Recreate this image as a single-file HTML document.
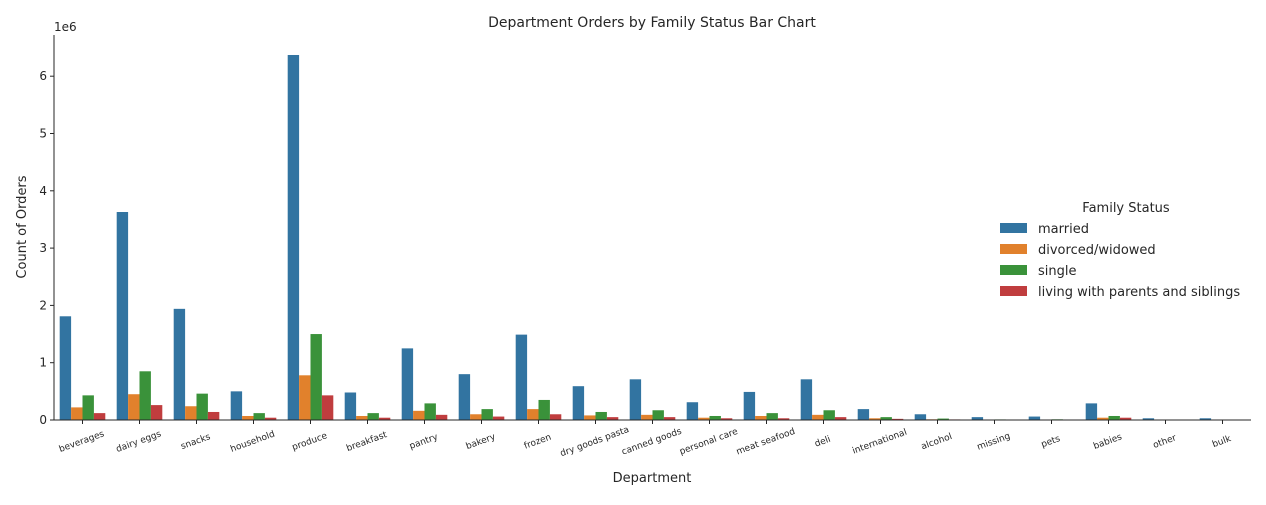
<!DOCTYPE html>
<html><head><meta charset="utf-8"><style>
body{margin:0;background:#fff;font-family:"Liberation Sans","DejaVu Sans",sans-serif;}
svg text{font-family:"DejaVu Sans","Liberation Sans",sans-serif;fill:#262626;}
</style></head><body>
<svg id="chart" width="1266" height="500" xmlns="http://www.w3.org/2000/svg">
<text x="652" y="27" font-size="14" text-anchor="middle">Department Orders by Family Status Bar Chart</text>
<text x="54" y="31" font-size="12">1e6</text>
<text transform="translate(26,227) rotate(-90)" font-size="13" text-anchor="middle">Count of Orders</text>
<text x="652" y="482" font-size="13" text-anchor="middle">Department</text>
<g id="bars"></g><g id="axes"></g>
<g font-size="13">
<text x="1126" y="212" font-size="13" text-anchor="middle">Family Status</text>
<g id="legend"></g>
</g>
</svg>
<script>
const categories=["beverages","dairy eggs","snacks","household","produce","breakfast","pantry","bakery","frozen","dry goods pasta","canned goods","personal care","meat seafood","deli","international","alcohol","missing","pets","babies","other","bulk"];
const seriesNames=["married","divorced/widowed","single","living with parents and siblings"];
const married=[1.81,3.63,1.94,0.50,6.37,0.48,1.25,0.80,1.49,0.59,0.71,0.31,0.49,0.71,0.19,0.10,0.05,0.06,0.29,0.03,0.03];
const divorced=[0.22,0.45,0.24,0.07,0.78,0.07,0.16,0.10,0.19,0.08,0.09,0.04,0.07,0.09,0.03,0.012,0.006,0.008,0.04,0.004,0.004];
const single=[0.43,0.85,0.46,0.12,1.50,0.12,0.29,0.19,0.35,0.14,0.17,0.07,0.12,0.17,0.05,0.025,0.01,0.012,0.07,0.007,0.007];
const living=[0.12,0.26,0.14,0.04,0.43,0.04,0.09,0.06,0.10,0.05,0.05,0.03,0.03,0.05,0.02,0.01,0.005,0.006,0.04,0.004,0.004];
const yTicks=[0,1,2,3,4,5,6];
const colors=["#3274a1","#e1812c","#3a923a","#c03d3e"];
const series=[married,divorced,single,living];
const NS="http://www.w3.org/2000/svg";
const x0=54,band=57.0,y0=420,ppu=57.3;
const xs=i=>x0+band*i, ys=v=>y0-v*ppu;
function mk(t,a,p){const e=document.createElementNS(NS,t);for(const k in a)e.setAttribute(k,a[k]);p.appendChild(e);return e;}
const bars=document.getElementById('bars'),axes=document.getElementById('axes'),leg=document.getElementById('legend');
const bw=band*0.8/4;
categories.forEach((c,i)=>{series.forEach((s,j)=>{
 const r=mk('rect',{x:xs(i)+band*0.1+j*bw,y:ys(s[i]),width:bw,height:y0-ys(s[i]),fill:colors[j]},bars);
 
 
});
 const cx=xs(i)+band/2;
 mk('line',{x1:cx,x2:cx,y1:y0,y2:y0+4,stroke:'#262626'},axes);
 const t=mk('text',{transform:`translate(${cx},${y0+24}) rotate(-20)`,'font-size':'9','text-anchor':'middle'},axes);
 t.textContent=c;
 
 
});
yTicks.forEach(v=>{const y=ys(v);
 mk('line',{x1:x0-4,x2:x0,y1:y,y2:y,stroke:'#262626'},axes);
 const t=mk('text',{x:x0-7,y:y+4,'font-size':'12','text-anchor':'end'},axes);t.textContent=v;
 
 
});
mk('line',{x1:x0,x2:x0,y1:35,y2:y0,stroke:'#262626'},axes);
mk('line',{x1:x0,x2:x0+band*21,y1:y0,y2:y0,stroke:'#262626'},axes);
seriesNames.forEach((n,j)=>{const y=228+j*21;
 const r=mk('rect',{x:1000,y:y-5,width:27,height:10,fill:colors[j]},leg);
 
 
 const t=mk('text',{x:1038,y:y+5,'font-size':'13'},leg);t.textContent=n;
 
 
});
</script>
</body></html>
